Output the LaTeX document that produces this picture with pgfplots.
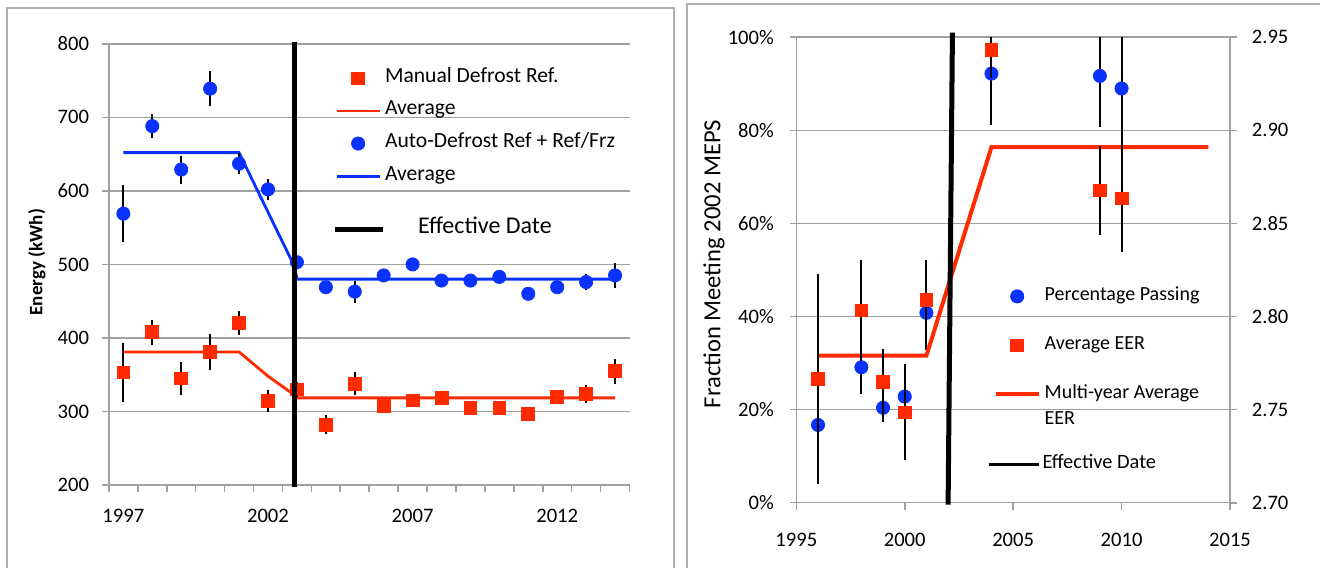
\documentclass[border=0pt]{standalone}
\usepackage{pgfplots}
\pgfplotsset{compat=1.18}
\usepackage{fontspec}
\setmainfont{Carlito}
\definecolor{myblue}{RGB}{10,50,255}
\definecolor{myred}{RGB}{255,42,0}
\definecolor{gridgray}{RGB}{160,160,160}
\definecolor{framegray}{RGB}{175,175,175}
\pgfplotsset{
  base/.style={
    scale only axis,
    axis line style={gridgray, line width=0.8pt, -},
    grid style={gridgray, line width=0.8pt},
    tick style={gridgray, line width=0.8pt},
    tick align=outside,
    major tick length=3.4pt,
    /pgf/number format/assume math mode=true,
    tick label style={font=\fontsize{10.3}{12}\selectfont},
    legend cell align=left,
    legend image code/.code={\draw[mark repeat=2,mark phase=2,##1] plot coordinates {(0pt,0pt)(10.75pt,0pt)(21.5pt,0pt)};},
  },
  ebar/.style={error bars/.cd, y dir=both, y explicit, error mark=none,
    error bar style={black, line width=1pt}},
}
\begin{document}
\begin{tikzpicture}
\draw[framegray, line width=1pt] (3.35pt,-5pt) rectangle (337pt,279.5pt);
\draw[framegray, line width=1pt] (343.5pt,-5pt) rectangle (670pt,281.35pt);

% ---------------- Left panel ----------------
\begin{axis}[base, at={(54.45pt,41pt)}, anchor=south west,
  width=260.3pt, height=220.6pt,
  xmin=1996.5, xmax=2014.5, ymin=200, ymax=800,
  ytick={200,300,...,800}, ymajorgrids,
  axis x line*=bottom, axis y line*=left,
  xtick={1996.5,1997.5,...,2014.5}, xticklabels={},
  extra x ticks={1997,2002,2007,2012},
  extra x tick labels={1997,2002,2007,2012},
  extra x tick style={major tick length=0pt, xticklabel style={yshift=-8.5pt}},
  yticklabel style={xshift=-3pt},
  ylabel={Energy (kWh)},
  ylabel style={font=\fontsize{9.5}{11}\selectfont\bfseries, at={(axis description cs:-0.1383,0.505)}, anchor=center},
  legend style={draw=none, fill=none, at={(0.434,0.943)}, anchor=north west,
    inner sep=0pt, row sep=7.3pt, column sep=2pt, font=\fontsize{10.8}{12}\selectfont,
    nodes={inner sep=0pt, text height=6.5pt, text depth=2.5pt}},
]
\addplot[forget plot, myred, line width=1.4pt] coordinates {
(1997,381) (2001,381) (2002,348) (2002.93,322) (2003,318.5) (2014,318.5)};
\addplot[forget plot, myblue, line width=1.4pt] coordinates {
(1997,652) (2001,652) (2002.93,496) (2003,480) (2014,480)};
\addplot[forget plot, only marks, mark=square*, mark size=3.2pt, myred, ebar]
 table[x=x, y=y, y error=e] {
x y e
1997 353 40
1998 408 17
1999 345 22
2000 381 24
2001 420 16
2002 314 15
2003 330 10
2004 282 13
2005 338 16
2006 308 4
2007 315 4
2008 318 5
2009 305 4
2010 305 4
2011 297 4
2012 320 9
2013 324 12
2014 355 17
};
\addplot[forget plot, only marks, mark=*, mark size=3.3pt, myblue, ebar]
 table[x=x, y=y, y error=e] {
x y e
1997 569 39
1998 688 16
1999 629 19
2000 739 24
2001 637 14
2002 602 14
2003 503 8
2004 469 8
2005 463 15
2006 485 6
2007 500 5
2008 478 5
2009 478 5
2010 483 5
2011 460 5
2012 469 6
2013 476 11
2014 485 17
};
\addlegendimage{only marks, mark=square*, mark size=3.2pt, myred}
\addlegendentry{Manual Defrost Ref.}
\addlegendimage{myred, line width=1.4pt}
\addlegendentry{Average}
\addlegendimage{only marks, mark=*, mark size=3.3pt, myblue}
\addlegendentry{Auto-Defrost Ref + Ref/Frz}
\addlegendimage{myblue, line width=1.4pt}
\addlegendentry{Average}
\end{axis}

\begin{axis}[base, at={(54.45pt,41pt)}, anchor=south west,
  width=260.3pt, height=220.6pt, hide axis, clip=false,
  xmin=1996.5, xmax=2014.5, ymin=200, ymax=800,
  legend image code/.code={\draw[#1] (0pt,0pt) -- (24pt,0pt);},
  legend style={draw=none, fill=none, at={(0.428,0.601)}, anchor=north west,
    inner sep=0pt, column sep=16.5pt, font=\fontsize{12}{14}\selectfont,
    nodes={inner sep=0pt, text height=6.5pt, text depth=2.5pt}},
]
\addplot[black, line width=2.5pt] coordinates {(2002.92,803) (2002.92,197)};
\addlegendentry{Effective Date}
\end{axis}

% ---------------- Right panel ----------------
\begin{axis}[base, at={(398.15pt,32.15pt)}, anchor=south west,
  width=216.85pt, height=232.7pt,
  xmin=1995, xmax=2015, ymin=0, ymax=100,
  xtick={1995,2000,...,2015}, ytick={0,20,...,100},
  x tick label style={/pgf/number format/1000 sep={}, yshift=-8.5pt},
  yticklabel={\pgfmathprintnumber{\tick}\%},
  yticklabel style={xshift=-4.3pt},
  ymajorgrids,
  axis x line*=bottom, axis y line*=left,
  ylabel={Fraction Meeting 2002 MEPS},
  ylabel style={font=\fontsize{12.3}{14}\selectfont, at={(axis description cs:-0.1898,0.513)}, anchor=center},
]
\addplot[only marks, mark=*, mark size=3.3pt, myblue, ebar]
 table[x=x, y=y, y error=e] {
x y e
1996 16.7 8
1998 29.1 5.8
1999 20.4 3
2000 22.8 3
2001 40.8 8
2004 92.2 11
2009 91.7 11
2010 89.0 14.5
};
\end{axis}

\begin{axis}[base, at={(398.15pt,32.15pt)}, anchor=south west,
  width=216.85pt, height=232.7pt,
  xmin=1995, xmax=2015, ymin=2.70, ymax=2.95,
  axis x line=none, axis y line*=right,
  ytick={2.70,2.75,...,2.95},
  yticklabel style={/pgf/number format/fixed, /pgf/number format/fixed zerofill,
    /pgf/number format/precision=2, xshift=4pt},
  legend style={draw=none, fill=none, at={(0.4542,0.4635)}, anchor=north west,
    inner sep=0pt, row sep=15.5pt, column sep=2pt, font=\fontsize{10}{12}\selectfont,
    nodes={inner sep=0pt, text height=6.5pt, text depth=2.5pt}},
]
\addplot[forget plot, myred, line width=2pt] coordinates {
(1996,2.779) (2001,2.779) (2004,2.891) (2014,2.891)};
\addplot[forget plot, only marks, mark=square*, mark size=3.2pt, myred, ebar]
 table[x=x, y=y, y error=e] {
x y e
1996 2.7665 0.0563
1998 2.8033 0.0273
1999 2.7648 0.018
2000 2.7485 0.0258
2001 2.8088 0.0218
2004 2.9433 0.015
2009 2.8678 0.024
2010 2.8635 0.0288
};
\addlegendimage{only marks, mark=*, mark size=3.3pt, myblue}
\addlegendentry{Percentage Passing}
\addlegendimage{only marks, mark=square*, mark size=3.2pt, myred}
\addlegendentry{Average EER}
\addlegendimage{myred, line width=2pt}
\addlegendentry{\begin{tabular}[t]{@{}l@{}}Multi-year Average\\[1.2pt]EER\end{tabular}}
\end{axis}

\begin{axis}[base, at={(398.15pt,32.15pt)}, anchor=south west,
  width=216.85pt, height=232.7pt, hide axis, clip=false,
  xmin=1995, xmax=2015, ymin=0, ymax=100,
  legend image code/.code={\draw[#1, line width=1.5pt] (0pt,0pt) -- (25pt,0pt);},
  legend style={draw=none, fill=none, at={(0.439,0.103)}, anchor=north west,
    inner sep=0pt, column sep=1.2pt, font=\fontsize{10.2}{12}\selectfont,
    nodes={inner sep=0pt, text height=6.5pt, text depth=2.5pt}},
]
\addplot[black, line width=2.5pt] coordinates {(2002.0,-0.4) (2002.2,101)};
\addlegendentry{Effective Date}
\end{axis}

\pgfresetboundingbox
\useasboundingbox (0,0) rectangle (660pt,283.5pt);
\end{tikzpicture}
\end{document}
